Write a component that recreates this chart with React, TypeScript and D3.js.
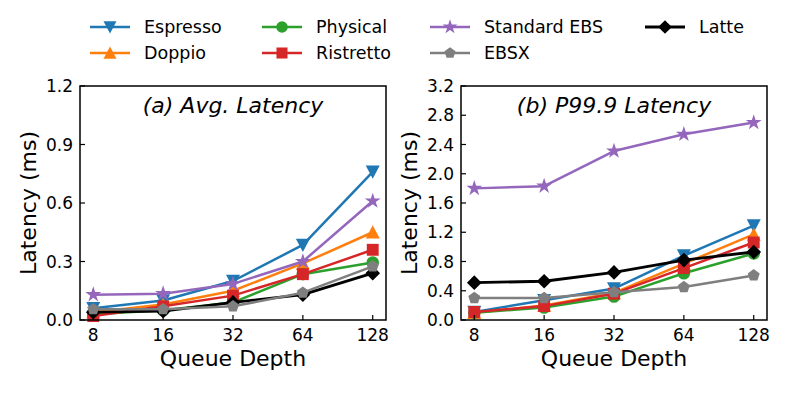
import React, { useEffect, useRef } from 'react';
import * as d3 from 'd3';

const depths = ['8', '16', '32', '64', '128'];

const espressoAvg = [0.06, 0.1, 0.2, 0.385, 0.76];
const doppioAvg = [0.04, 0.08, 0.15, 0.29, 0.45];
const physicalAvg = [0.03, 0.05, 0.09, 0.235, 0.295];
const ristrettoAvg = [0.02, 0.07, 0.125, 0.235, 0.36];
const standardAvg = [0.13, 0.135, 0.185, 0.3, 0.61];
const ebsxAvg = [0.055, 0.055, 0.07, 0.14, 0.275];
const latteAvg = [0.04, 0.045, 0.09, 0.13, 0.24];

const espressoP = [0.11, 0.27, 0.43, 0.88, 1.29];
const doppioP = [0.1, 0.2, 0.37, 0.77, 1.17];
const physicalP = [0.1, 0.17, 0.32, 0.64, 0.91];
const ristrettoP = [0.11, 0.19, 0.36, 0.71, 1.06];
const standardP = [1.8, 1.83, 2.31, 2.54, 2.7];
const ebsxP = [0.3, 0.3, 0.38, 0.45, 0.61];
const latteP = [0.51, 0.53, 0.65, 0.82, 0.93];

const avgTicks = [0, 0.3, 0.6, 0.9, 1.2];
const p999Ticks = [0, 0.4, 0.8, 1.2, 1.6, 2.0, 2.4, 2.8, 3.2];

const FONT = 'DejaVu Sans, sans-serif';

// marker path centred on 0,0
const markerPath = (kind: string, r: number) => {
  const poly = (pts: number[][]) => 'M' + pts.map((p) => p.join(',')).join('L') + 'Z';
  if (kind === 'tdown') return poly([[0, r], [-r, -r * 0.9], [r, -r * 0.9]]);
  if (kind === 'tup') return poly([[0, -r], [-r, r * 0.9], [r, r * 0.9]]);
  if (kind === 'circle') return d3.symbol(d3.symbolCircle, Math.PI * r * r * 0.8)();
  if (kind === 'square') return poly([[-r * 0.85, -r * 0.85], [r * 0.85, -r * 0.85], [r * 0.85, r * 0.85], [-r * 0.85, r * 0.85]]);
  if (kind === 'diamond') return poly([[0, -r * 1.05], [r * 1.05, 0], [0, r * 1.05], [-r * 1.05, 0]]);
  if (kind === 'star') return d3.symbol(d3.symbolStar, r * r * 1.6)();
  const pts = d3.range(5).map((i) => {
    const a = -Math.PI / 2 + (i * 2 * Math.PI) / 5;
    return [r * 0.9 * Math.cos(a), r * 0.9 * Math.sin(a)];
  });
  return poly(pts);
};

const series = [
  { name: 'Espresso', color: '#1f77b4', marker: 'tdown', avg: espressoAvg, p: espressoP, lw: 2.5 },
  { name: 'Doppio', color: '#ff7f0e', marker: 'tup', avg: doppioAvg, p: doppioP, lw: 2.5 },
  { name: 'Physical', color: '#2ca02c', marker: 'circle', avg: physicalAvg, p: physicalP, lw: 2.5 },
  { name: 'Ristretto', color: '#d62728', marker: 'square', avg: ristrettoAvg, p: ristrettoP, lw: 2.5 },
  { name: 'Standard EBS', color: '#9467bd', marker: 'star', avg: standardAvg, p: standardP, lw: 2.5 },
  { name: 'Latte', color: '#000000', marker: 'diamond', avg: latteAvg, p: latteP, lw: 2.8 },
  { name: 'EBSX', color: '#7f7f7f', marker: 'pentagon', avg: ebsxAvg, p: ebsxP, lw: 2.5 },
];

const legendOrder = ['Espresso', 'Doppio', 'Physical', 'Ristretto', 'Standard EBS', 'EBSX', 'Latte'];

const Chart = () => {
  const svgRef = useRef<SVGSVGElement>(null);

  useEffect(() => {
    const svg = d3.select(svgRef.current);
    svg.selectAll('*').remove();

    const top = 86;
    const bottom = 320;

    const drawPanel = (
      left: number,
      right: number,
      max: number,
      ticks: number[],
      key: 'avg' | 'p',
      title: string
    ) => {
      const x = d3.scalePoint().domain(depths).range([left, right]).padding(0.19);
      const y = d3.scaleLinear().domain([0, max]).range([bottom, top]);
      const g = svg.append('g');

      // lines and markers
      series.forEach((s) => {
        const vals = s[key];
        const line = d3
          .line<number>()
          .x((d, i) => x(depths[i])!)
          .y((d) => y(d));
        g.append('path')
          .attr('d', line(vals))
          .attr('fill', 'none')
          .attr('stroke', s.color)
          .attr('stroke-width', s.lw)
          .attr('stroke-linejoin', 'round');
        g.selectAll(null)
          .data(vals)
          .enter()
          .append('path')
          .attr('d', markerPath(s.marker, 7))
          .attr('transform', (d, i) => `translate(${x(depths[i])},${y(d)})`)
          .attr('fill', s.color);
      });

      // frame
      g.append('rect')
        .attr('x', left)
        .attr('y', top)
        .attr('width', right - left)
        .attr('height', bottom - top)
        .attr('fill', 'none')
        .attr('stroke', '#000')
        .attr('stroke-width', 1.5);

      // y ticks (inward)
      ticks.forEach((t) => {
        g.append('line')
          .attr('x1', left)
          .attr('x2', left + 5)
          .attr('y1', y(t))
          .attr('y2', y(t))
          .attr('stroke', '#000')
          .attr('stroke-width', 1.2);
        g.append('text')
          .attr('x', left - 7)
          .attr('y', y(t))
          .attr('dy', '0.36em')
          .attr('text-anchor', 'end')
          .attr('font-family', FONT)
          .attr('font-size', 17)
          .text(t.toFixed(1));
      });

      // x ticks (inward)
      depths.forEach((d) => {
        g.append('line')
          .attr('x1', x(d)!)
          .attr('x2', x(d)!)
          .attr('y1', bottom)
          .attr('y2', bottom - 5)
          .attr('stroke', '#000')
          .attr('stroke-width', 1.2);
        g.append('text')
          .attr('x', x(d)!)
          .attr('y', 341)
          .attr('text-anchor', 'middle')
          .attr('font-family', FONT)
          .attr('font-size', 17)
          .text(d);
      });

      g.append('text')
        .attr('x', (left + right) / 2)
        .attr('y', 366)
        .attr('text-anchor', 'middle')
        .attr('font-family', FONT)
        .attr('font-size', 22)
        .text('Queue Depth');

      g.append('text')
        .attr('transform', `translate(${left - 44},${(top + bottom) / 2}) rotate(-90)`)
        .attr('text-anchor', 'middle')
        .attr('font-family', FONT)
        .attr('font-size', 22)
        .text('Latency (ms)');

      g.append('text')
        .attr('x', (left + right) / 2)
        .attr('y', 113)
        .attr('text-anchor', 'middle')
        .attr('font-family', FONT)
        .attr('font-style', 'italic')
        .attr('font-size', 22)
        .text(title);
    };

    drawPanel(80, 386, 1.2, avgTicks, 'avg', '(a) Avg. Latency');
    drawPanel(461, 767, 3.2, p999Ticks, 'p', '(b) P99.9 Latency');

    // legend, column-major, 4 columns x 2 rows
    const colX = [90, 262, 430, 645];
    const rowY = [27, 53];
    legendOrder.forEach((name, i) => {
      const s = series.find((d) => d.name === name)!;
      const cx = colX[Math.floor(i / 2)];
      const cy = rowY[i % 2];
      const lg = svg.append('g');
      lg.append('line')
        .attr('x1', cx)
        .attr('x2', cx + 40)
        .attr('y1', cy)
        .attr('y2', cy)
        .attr('stroke', s.color)
        .attr('stroke-width', s.lw);
      lg.append('path')
        .attr('d', markerPath(s.marker, 6.5))
        .attr('transform', `translate(${cx + 20},${cy})`)
        .attr('fill', s.color);
      lg.append('text')
        .attr('x', cx + 54)
        .attr('y', cy)
        .attr('dy', '0.36em')
        .attr('font-family', FONT)
        .attr('font-size', 17.5)
        .text(s.name);
    });
  }, []);

  return (
    <svg
      ref={svgRef}
      width={800}
      height={393}
      style={{ position: 'absolute', left: 0, top: 0, background: '#fff' }}
    />
  );
};

export default function App() {
  return <Chart />;
}
